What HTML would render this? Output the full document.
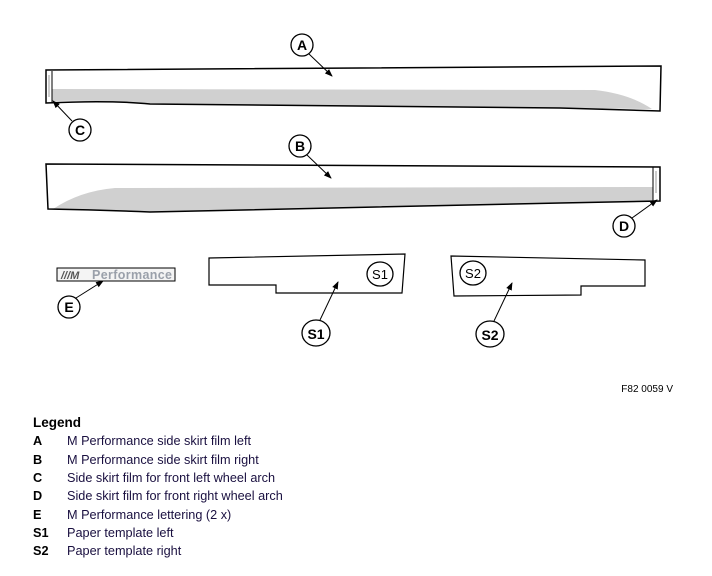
<!DOCTYPE html>
<html><head><meta charset="utf-8"><style>
body{margin:0;background:#fff;width:712px;height:576px;overflow:hidden;font-family:"Liberation Sans",sans-serif}
.lg{position:absolute;left:33px;font-size:12px;color:#000}
.row{position:absolute;left:33px;font-size:12.7px;color:#1a1040}
.row b{position:absolute;left:0;color:#000;font-weight:bold}
.row span{position:absolute;left:34px;white-space:nowrap}
</style></head><body>
<svg width="712" height="576" style="position:absolute;left:0;top:0" xmlns="http://www.w3.org/2000/svg">
<defs><marker id="ar" markerWidth="8" markerHeight="8" refX="7" refY="4" orient="auto" markerUnits="userSpaceOnUse"><path d="M0,1 L8,4 L0,7 Z" fill="#000"/></marker></defs>
<g stroke="#000" stroke-width="1.5" fill="none">
<!-- A -->
<path d="M52,89 L595,90 Q630,94 652,109 L560,108 L150,104 Q110,100 52,101 Z" fill="#d0d0d0" stroke="none"/>
<path d="M46,70 L661,66 L660,111 L560,108 L150,104 Q110,100 46,103 Z"/>
<line x1="52" y1="71" x2="52" y2="103" stroke-width="1"/>
<rect x="48" y="75" width="2" height="22" fill="#ccc" stroke="none"/>
<!-- B -->
<path d="M53,209 Q80,191 115,188 L653,187 L653,201 L560,203 L150,212 Q100,210 53,209 Z" fill="#d0d0d0" stroke="none"/>
<path d="M46,164 L660,167 L660,201 L560,203 L150,212 Q100,210 48,209 Z"/>
<line x1="653" y1="167" x2="653" y2="201" stroke-width="1"/>
<rect x="655" y="171" width="2" height="22" fill="#ccc" stroke="none"/>
<!-- E -->
<rect x="57" y="268" width="118" height="13" stroke-width="1" fill="#f4f4f4"/>
<!-- S1 S2 -->
<path d="M209,258 L405,254 L402,293 L276,293 L276,285 L209,285 Z" stroke-width="1.2"/>
<path d="M451,256 L645,260 L645,286 L581,286 L581,295 L454,296 Z" stroke-width="1.2"/>
<ellipse cx="380" cy="274" rx="13" ry="12" stroke-width="1.3"/>
<ellipse cx="473" cy="273" rx="13" ry="12" stroke-width="1.3"/>
<!-- callout circles -->
<circle cx="302" cy="45" r="11" stroke-width="1.3" fill="#fff"/>
<circle cx="80" cy="130" r="11" stroke-width="1.3" fill="#fff"/>
<circle cx="300" cy="146" r="11" stroke-width="1.3" fill="#fff"/>
<circle cx="624" cy="226" r="11" stroke-width="1.3" fill="#fff"/>
<circle cx="69" cy="307" r="11" stroke-width="1.3" fill="#fff"/>
<ellipse cx="316" cy="333" rx="14" ry="13" stroke-width="1.3" fill="#fff"/>
<ellipse cx="490" cy="334" rx="14" ry="13" stroke-width="1.3" fill="#fff"/>
<!-- arrows -->
<g stroke-width="1" marker-end="url(#ar)">
<line x1="309" y1="54" x2="332" y2="76"/>
<line x1="72" y1="121" x2="53" y2="101"/>
<line x1="307" y1="155" x2="331" y2="178"/>
<line x1="632" y1="218" x2="657" y2="200"/>
<line x1="76" y1="298" x2="103" y2="281"/>
<line x1="320" y1="320" x2="338" y2="282"/>
<line x1="494" y1="321" x2="512" y2="283"/>
</g>
</g>
<g font-family="Liberation Sans,sans-serif" text-anchor="middle" font-weight="bold" font-size="14">
<text x="302" y="50">A</text><text x="80" y="135">C</text><text x="300" y="151">B</text>
<text x="624" y="231">D</text><text x="69" y="312">E</text>
<text x="316" y="339">S1</text><text x="490" y="340">S2</text>
</g>
<g font-family="Liberation Sans,sans-serif" text-anchor="middle" font-size="13">
<text x="380" y="279">S1</text><text x="473" y="278">S2</text>
</g>
<text x="61" y="279" font-family="Liberation Sans,sans-serif" font-size="11" font-weight="bold" font-style="italic" fill="#555">///M</text>
<text x="92" y="279" font-family="Liberation Sans,sans-serif" font-size="12.5" font-weight="bold" fill="#9aa0aa" textLength="80">Performance</text>
<text x="673" y="392" text-anchor="end" font-family="Liberation Sans,sans-serif" font-size="10">F82 0059 V</text>
</svg>
<div class="lg" style="top:415px;font-weight:bold;font-size:13.5px">Legend</div>
<div class="row" style="top:434px"><b>A</b><span>M Performance side skirt film left</span></div>
<div class="row" style="top:453px"><b>B</b><span>M Performance side skirt film right</span></div>
<div class="row" style="top:471px"><b>C</b><span>Side skirt film for front left wheel arch</span></div>
<div class="row" style="top:489px"><b>D</b><span>Side skirt film for front right wheel arch</span></div>
<div class="row" style="top:508px"><b>E</b><span>M Performance lettering (2 x)</span></div>
<div class="row" style="top:526px"><b>S1</b><span>Paper template left</span></div>
<div class="row" style="top:544px"><b>S2</b><span>Paper template right</span></div>
</body></html>
